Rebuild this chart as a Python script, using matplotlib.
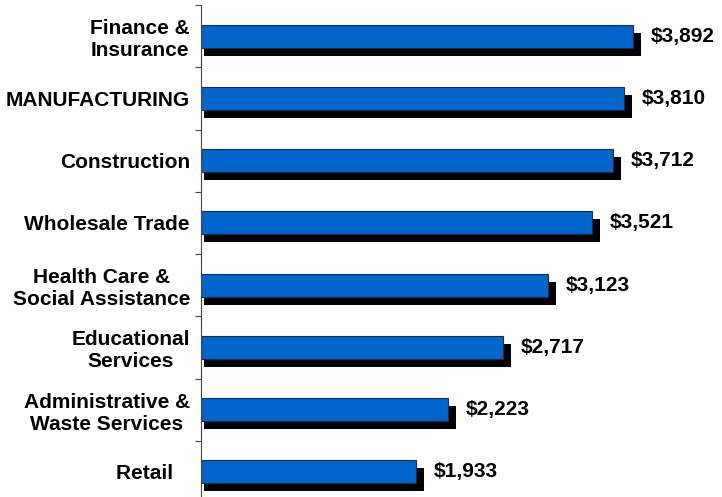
import matplotlib
matplotlib.use("Agg")
import matplotlib.pyplot as plt
from matplotlib.ticker import FixedLocator

categories = ["Finance &\nInsurance", "MANUFACTURING", "Construction", "Wholesale Trade",
              "Health Care &\nSocial Assistance", "Educational\nServices",
              "Administrative &\nWaste Services", "Retail   "]
values = [3892, 3810, 3712, 3521, 3123, 2717, 2223, 1933]
value_labels = ["$3,892", "$3,810", "$3,712", "$3,521", "$3,123", "$2,717", "$2,223", "$1,933"]

plt.rcParams['font.family'] = ['Liberation Sans', 'DejaVu Sans']
plt.rcParams['font.weight'] = 'bold'

fig = plt.figure(figsize=(7.22, 4.97), dpi=100)
ax = fig.add_axes([201/722, (497-503)/497, (722-201)/722, 498/497])

pos = list(range(len(categories)))
bh = 0.37
# shadow
ax.barh([p + 0.13 for p in pos], [v + 45 for v in values], left=27, height=bh,
        color='black', zorder=1)
ax.barh(pos, values, height=bh, color='#0066CC', edgecolor='#1a2a50', linewidth=0.8, zorder=2)

for p, v, lab in zip(pos, values, value_labels):
    ax.annotate(lab, xy=(v, p), xytext=(13, 0), textcoords='offset points',
                va='center', ha='left', fontsize=15, fontweight='bold', color='black')

ax.set_xlim(0, (722-201)/0.111)
ax.set_ylim(7.5, -0.5)
ax.set_yticks(pos)
ax.set_yticklabels(categories, fontsize=15, fontweight='bold', multialignment='center')
ax.yaxis.set_minor_locator(FixedLocator([p + 0.5 for p in range(-1, len(categories))]))
ax.tick_params(axis='y', which='major', length=0, pad=8)
ax.tick_params(axis='y', which='minor', length=4, width=0.8, color='#444444', direction='out')
ax.xaxis.set_visible(False)
for s in ['top', 'right', 'bottom']:
    ax.spines[s].set_visible(False)
ax.spines['left'].set_color('#444444')
ax.spines['left'].set_linewidth(0.8)

fig.savefig("out.png", dpi=100)
